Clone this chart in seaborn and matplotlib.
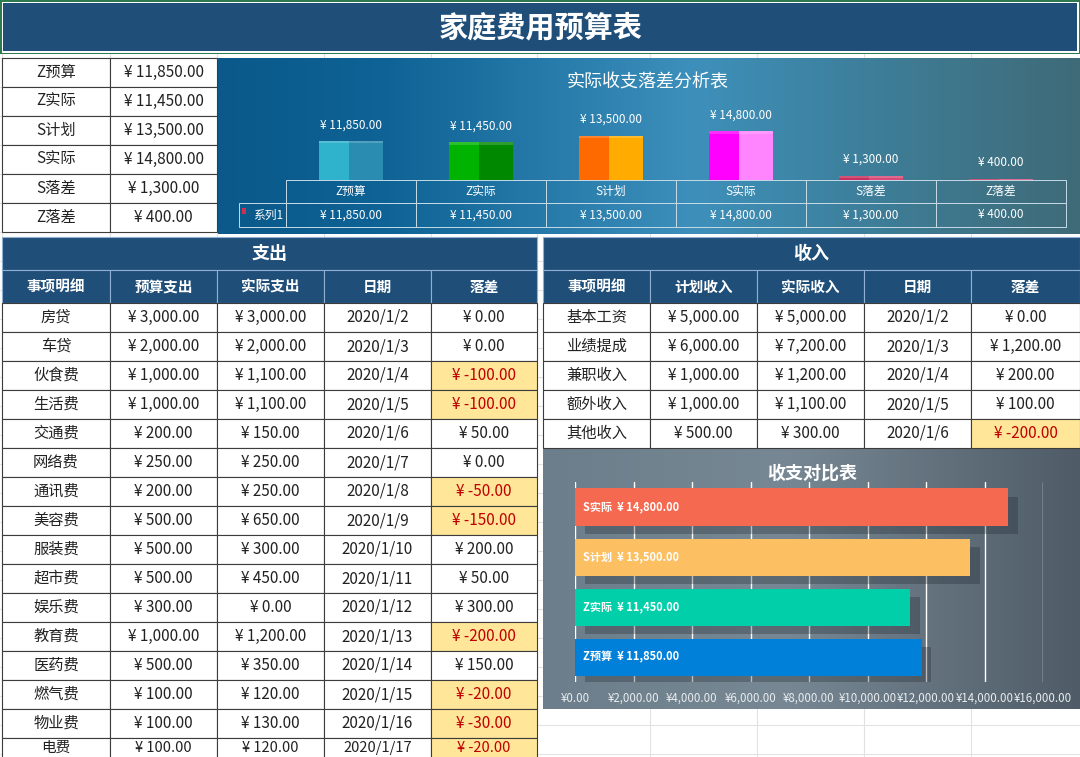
import numpy as np
import pandas as pd
import seaborn as sns
import matplotlib.pyplot as plt
import matplotlib.patheffects as pe
from matplotlib.patches import Rectangle
from matplotlib.colors import LinearSegmentedColormap
from matplotlib.ticker import FuncFormatter

sns.set_style("white")
plt.rcParams["font.family"] = ["Noto Sans CJK SC", "DejaVu Sans"]

# ---- data ----
sum_labels = ["Z预算", "Z实际", "S计划", "S实际", "S落差", "Z落差"]
sum_values = [11850, 11450, 13500, 14800, 1300, 400]

exp_items = ["房贷", "车贷", "伙食费", "生活费", "交通费", "网络费", "通讯费", "美容费",
             "服装费", "超市费", "娱乐费", "教育费", "医药费", "燃气费", "物业费", "电费"]
exp_budget = [3000, 2000, 1000, 1000, 200, 250, 200, 500, 500, 500, 300, 1000, 500, 100, 100, 100]
exp_actual = [3000, 2000, 1100, 1100, 150, 250, 250, 650, 300, 450, 0, 1200, 350, 120, 130, 120]
exp_dates = ["2020/1/2", "2020/1/3", "2020/1/4", "2020/1/5", "2020/1/6", "2020/1/7",
             "2020/1/8", "2020/1/9", "2020/1/10", "2020/1/11", "2020/1/12", "2020/1/13",
             "2020/1/14", "2020/1/15", "2020/1/16", "2020/1/17"]

inc_items = ["基本工资", "业绩提成", "兼职收入", "额外收入", "其他收入"]
inc_plan = [5000, 6000, 1000, 1000, 500]
inc_actual = [5000, 7200, 1200, 1100, 300]
inc_dates = ["2020/1/2", "2020/1/3", "2020/1/4", "2020/1/5", "2020/1/6"]

cmp_labels = ["S实际", "S计划", "Z实际", "Z预算"]
cmp_values = [14800, 13500, 11450, 11850]

# ---- styles ----
NAVY = "#1f4e79"
LINE = "#3c3c3c"
NEG_FILL = "#ffe699"
NEG_TEXT = "#c00000"
front_colors = ["#2fb2cb", "#00b300", "#ff6a00", "#ff00ff", "#c8305e", "#c8305e"]
side_colors = ["#2a8cb0", "#008800", "#ffab00", "#ff85ff", "#d84a78", "#d84a78"]
cmp_colors = ["#f4694f", "#fcbf62", "#00cfa9", "#0080d9"]

W, H = 1080, 757


def yuan(v):
    if v < 0:
        return f"¥ -{-v:,.2f}"
    return f"¥ {v:,.2f}"


def box(x0, y0, x1, y1):
    return [x0 / W, 1 - y1 / H, (x1 - x0) / W, (y1 - y0) / H]


fig = plt.figure(figsize=(10.8, 7.57), dpi=100)
fig.patch.set_facecolor("white")
bg = fig.add_axes([0, 0, 1, 1])
bg.axis("off")


def cell(x0, y0, x1, y1, text="", fc="white", ec=LINE, tc="#222222",
         size=11, bold=False, lw=0.8, z=3, ty=None):
    bg.add_patch(Rectangle((x0, y0), x1 - x0, y1 - y0, facecolor=fc,
                           edgecolor=ec, lw=lw, zorder=z))
    if text:
        yc = (y0 + y1) / 2 if ty is None else ty
        bg.text((x0 + x1) / 2, yc, text, ha="center", va="center",
                color=tc, fontsize=size, fontweight="bold" if bold else "normal",
                zorder=z + 1)


# faint spreadsheet grid
for gx in [2, 110, 217, 324, 431, 537, 650, 757, 864, 971]:
    bg.plot([gx, gx], [53, H], color="#e2e2e2", lw=0.8, zorder=0)
for gy in range(58, H, 29):
    bg.plot([0, W], [gy, gy], color="#e2e2e2", lw=0.8, zorder=0)

# title bar
bg.add_patch(Rectangle((0, 0), W, 54, facecolor="#2d7a50", lw=0, zorder=2))
bg.add_patch(Rectangle((1.5, 1.5), W - 3, 51, facecolor="white", lw=0, zorder=2))
bg.add_patch(Rectangle((3, 3), W - 6, 48, facecolor=NAVY, lw=0, zorder=2))
bg.text(541, 27, "家庭费用预算表", ha="center", va="center", color="white",
        fontsize=21, fontweight="bold", zorder=4)

# summary table
for i, (lab, v) in enumerate(zip(sum_labels, sum_values)):
    y0 = 58 + 29 * i
    cell(2, y0, 110, y0 + 29, lab)
    cell(110, y0, 217, y0 + 29, yuan(v))

# top chart panel
grad = np.linspace(0, 1, 256)[None, :]
top_cmap = LinearSegmentedColormap.from_list(
    "top", [(0, "#0a598a"), (0.2, "#0f6396"), (0.55, "#3d90bb"), (0.8, "#3e7b93"), (1, "#3f6b78")])
bg.imshow(grad, cmap=top_cmap, extent=(218, 1080, 234, 58), aspect="auto", zorder=1)
bg.text(648, 83, "实际收支落差分析表", ha="center", va="center", color="white",
        fontsize=13, zorder=4)

tx = [286 + 130 * k for k in range(7)]
TL = "#c6dae6"
for k, (lab, v) in enumerate(zip(sum_labels, sum_values)):
    cell(tx[k], 180, tx[k + 1], 203, lab, fc="none", ec=TL, tc="white", size=8.5, lw=0.7)
    cell(tx[k], 203, tx[k + 1], 227, yuan(v), fc="none", ec=TL, tc="white", size=8.5, lw=0.7)
cell(239, 203, 286, 227, "", fc="none", ec=TL, lw=0.7)
bg.text(268, 215, "系列1", ha="center", va="center", color="white", fontsize=8.5, zorder=5)
bg.add_patch(Rectangle((242, 208), 4, 6, facecolor="#d0304f", lw=0, zorder=5))

# bottom chart panel
bot_cmap = LinearSegmentedColormap.from_list(
    "bot", [(0, "#6c7e8b"), (0.45, "#778894"), (1, "#4f5c67")])
bg.imshow(grad, cmap=bot_cmap, extent=(543, 1080, 709, 448), aspect="auto", zorder=1)
bg.text(812, 473, "收支对比表", ha="center", va="center", color="white",
        fontsize=13, fontweight="bold", zorder=4)

# expense table
exp_x = [2, 110, 217, 324, 431, 537]
HDR_EC = "#8fb0d0"
cell(2, 237, 537, 270, "支出", fc=NAVY, ec=HDR_EC, tc="white", size=13, bold=True)
for k, name in enumerate(["事项明细", "预算支出", "实际支出", "日期", "落差"]):
    cell(exp_x[k], 270, exp_x[k + 1], 303, name, fc=NAVY, ec=HDR_EC, tc="white",
         size=10.5, bold=True)
for r in range(len(exp_items)):
    y0 = 303 + 29 * r
    # last row runs past the bottom edge: lift and shrink its text a little
    cut = y0 + 29 > H
    diff = exp_budget[r] - exp_actual[r]
    vals = [exp_items[r], yuan(exp_budget[r]), yuan(exp_actual[r]), exp_dates[r], yuan(diff)]
    for k, t in enumerate(vals):
        neg = k == 4 and diff < 0
        cell(exp_x[k], y0, exp_x[k + 1], y0 + 29, t, ty=748 if cut else None,
             size=10.5 if cut else 11,
             fc=NEG_FILL if neg else "white", tc=NEG_TEXT if neg else "#222222")

# income table
inc_x = [543, 650, 757, 864, 971, 1080]
cell(543, 237, 1080, 270, "收入", fc=NAVY, ec=HDR_EC, tc="white", size=13, bold=True)
for k, name in enumerate(["事项明细", "计划收入", "实际收入", "日期", "落差"]):
    cell(inc_x[k], 270, inc_x[k + 1], 303, name, fc=NAVY, ec=HDR_EC, tc="white",
         size=10.5, bold=True)
for r in range(len(inc_items)):
    y0 = 303 + 29 * r
    diff = inc_actual[r] - inc_plan[r]
    vals = [inc_items[r], yuan(inc_plan[r]), yuan(inc_actual[r]), inc_dates[r], yuan(diff)]
    for k, t in enumerate(vals):
        neg = k == 4 and diff < 0
        cell(inc_x[k], y0, inc_x[k + 1], y0 + 29, t,
             fc=NEG_FILL if neg else "white", tc=NEG_TEXT if neg else "#222222")

bg.set_xlim(0, W)
bg.set_ylim(H, 0)

# ---- top column chart ----
ax1 = fig.add_axes(box(286, 100, 1066, 180))
ax1.patch.set_alpha(0)
df_top = pd.DataFrame({"项目": sum_labels, "金额": sum_values})
sns.barplot(data=df_top, x="项目", y="金额", hue="项目", palette=front_colors,
            width=0.49, saturation=1, linewidth=0, legend=False, ax=ax1)
for p in list(ax1.patches):
    i = int(round(p.get_x() + p.get_width() / 2))
    x, w, h = p.get_x(), p.get_width(), p.get_height()
    ax1.add_patch(Rectangle((x + w * 0.47, 0), w * 0.53, h, facecolor=side_colors[i], lw=0))
    top = min(h, 700)
    ax1.add_patch(Rectangle((x, h - top), w, top, facecolor="white", alpha=0.18, lw=0))
for c in ax1.containers:
    ax1.bar_label(c, labels=[yuan(b.get_height()) for b in c], padding=7,
                  color="white", fontsize=8.5)
ax1.set_xlim(-0.5, 5.5)
ax1.set_ylim(0, 24400)
ax1.axis("off")

# ---- bottom bar chart ----
ax2 = fig.add_axes(box(575, 482, 1043, 682))
ax2.patch.set_alpha(0)
df_cmp = pd.DataFrame({"项目": cmp_labels, "金额": cmp_values})
sns.barplot(data=df_cmp, x="金额", y="项目", hue="项目", palette=cmp_colors,
            width=0.74, saturation=1, linewidth=0, legend=False, orient="h", ax=ax2)
for p in ax2.patches:
    p.set_path_effects([pe.SimplePatchShadow(offset=(7, -6), shadow_rgbFace="#1e262c", alpha=0.3),
                        pe.Normal()])
for i, (lab, v) in enumerate(zip(cmp_labels, cmp_values)):
    ax2.annotate(f"{lab}  {yuan(v)}", (0, i), xytext=(6, 0), textcoords="offset points",
                 ha="left", va="center", color="white", fontsize=8, fontweight="bold")
ax2.set_xlim(0, 16000)
ax2.set_xticks(range(0, 16001, 2000))
ax2.xaxis.set_major_formatter(FuncFormatter(lambda v, _: f"¥{v:,.2f}"))
ax2.grid(axis="x", color="white", lw=1)
ax2.set_axisbelow(True)
ax2.set_yticks([])
ax2.set_xlabel("")
ax2.set_ylabel("")
ax2.tick_params(axis="x", colors="#e8ecef", labelsize=8.3, length=0, pad=7)
sns.despine(ax=ax2, left=True, bottom=True)

fig.savefig("out.png", dpi=100)
